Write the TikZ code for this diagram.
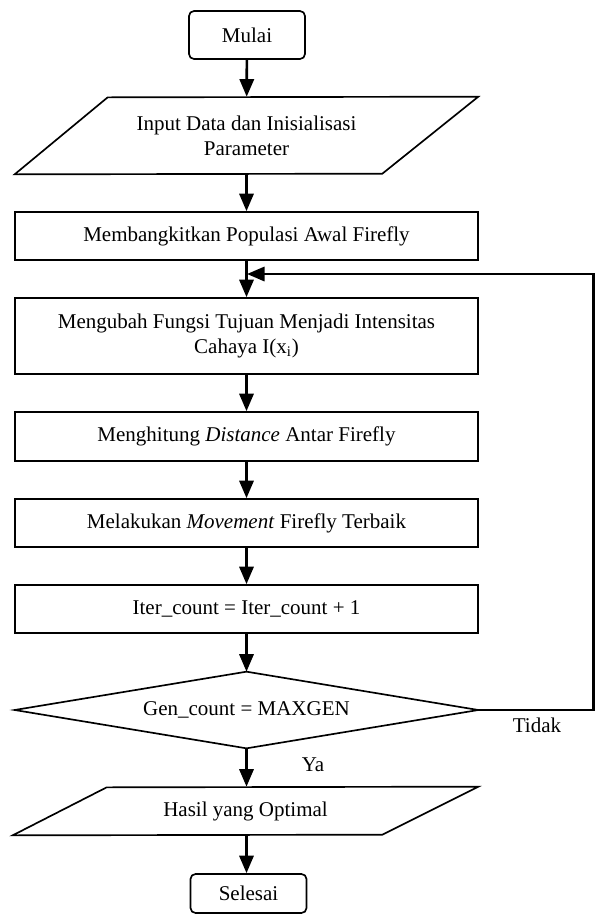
\documentclass[tikz,border=0pt]{standalone}
\usepackage{fontspec}
\setmainfont{Liberation Serif}
\usetikzlibrary{arrows.meta}

\begin{document}
\begin{tikzpicture}[x=0.6pt, y=-0.6pt, font=\fontsize{12.6}{15}\selectfont,
  tbox/.style={draw,line width=1pt,rounded corners=3pt,minimum width=116*0.6pt,align=center},
  pbox/.style={draw,line width=1pt,minimum width=463*0.6pt,align=center,inner sep=2pt},
  iobox/.style={inner sep=0pt,minimum width=463*0.6pt,align=center},
  line/.style={line width=1pt},
  arr/.style={line width=1.6pt,-{Triangle[length=10.5pt,width=8.5pt]}}]
\useasboundingbox (0,0) rectangle (598,919);
% start
\node[tbox,minimum height=48*0.6pt] (mulai) at (247,35) {Mulai};
% input
\node[iobox,minimum height=77*0.6pt] (inp) at (246.5,135.5) {Input Data dan Inisialisasi\\Parameter};
\draw[line] (inp.south west) -- ++(93,-77) -- (inp.north east) -- ++(-96,77) -- cycle;
% process steps
\node[pbox,minimum height=48*0.6pt] (pop) at (246.5,236) {Membangkitkan Populasi Awal Firefly};
\node[pbox,minimum height=76*0.6pt] (fit) at (246.5,336) {Mengubah Fungsi Tujuan Menjadi Intensitas\\Cahaya I(x\textsubscript{i})};
\node[pbox,minimum height=49*0.6pt] (dist) at (246.5,436.5) {Menghitung \textit{Distance} Antar Firefly};
\node[pbox,minimum height=48*0.6pt] (move) at (246.5,523) {Melakukan \textit{Movement} Firefly Terbaik};
\node[pbox,minimum height=48*0.6pt] (iter) at (246.5,609) {Iter\_count = Iter\_count + 1};
% decision
\node[iobox,minimum height=76*0.6pt] (dec) at (246.5,710) {Gen\_count = MAXGEN};
\draw[line] (dec.west) -- (dec.north) -- (dec.east) -- (dec.south) -- cycle;
% output
\node[iobox,minimum width=465*0.6pt,minimum height=48*0.6pt] (out) at (245.5,811) {Hasil yang Optimal};
\draw[line] (out.south west) -- ++(94,-48) -- (out.north east) -- ++(-96,48) -- cycle;
% end
\node[tbox,minimum height=39*0.6pt] (selesai) at (248.5,893.5) {Selesai};
% arrows
\draw[arr] (mulai) -- (inp);
\draw[arr] (inp) -- (pop);
\draw[arr] (pop) -- (fit);
\draw[arr] (fit) -- (dist);
\draw[arr] (dist) -- (move);
\draw[arr] (move) -- (iter);
\draw[arr] (iter.south) -- (dec.north);
\draw[arr] (dec.south) -- (out.north -| dec.south);
\draw[arr] (out.south -| dec.south) -- (selesai.north -| dec.south);
% loop back
\coordinate (back) at (247,274);
\draw[arr] (dec.east) -- ++(115,0) |- (back);
\node (ya) at (313,765) {Ya};
\node (tidak) at (537,725) {Tidak};
\end{tikzpicture}
\end{document}
